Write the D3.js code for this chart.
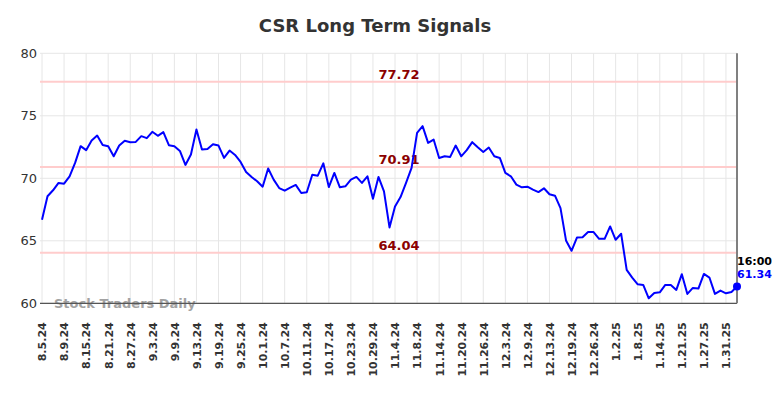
<!DOCTYPE html>
<html>
<head>
<meta charset="utf-8">
<script src="https://cdn.jsdelivr.net/npm/d3@7"></script>
<style>
  html, body { margin: 0; padding: 0; background: #fff; }
  svg { display: block; font-family: "DejaVu Sans", sans-serif; }
</style>
</head>
<body>
<svg id="chart" width="784" height="398"></svg>
<script>
const title = "CSR Long Term Signals";
const tickLabels = ["8.5.24","8.9.24","8.15.24","8.21.24","8.27.24","9.3.24","9.9.24","9.13.24","9.19.24","9.25.24","10.1.24","10.7.24","10.11.24","10.17.24","10.23.24","10.29.24","11.4.24","11.8.24","11.14.24","11.20.24","11.26.24","12.3.24","12.9.24","12.13.24","12.19.24","12.26.24","1.2.25","1.8.25","1.14.25","1.21.25","1.27.25","1.31.25"];
const pointsPerTick = 4;
const values = [
  66.68,68.56,69.04,69.63,69.57,70.16,71.23,72.57,72.25,73.02,
  73.42,72.67,72.57,71.76,72.62,73.00,72.89,72.91,73.37,73.21,
  73.72,73.40,73.69,72.65,72.57,72.19,71.07,71.90,73.90,72.30,
  72.35,72.73,72.62,71.63,72.22,71.87,71.31,70.51,70.11,69.76,
  69.33,70.78,69.89,69.22,69.01,69.25,69.47,68.82,68.88,70.29,
  70.21,71.20,69.30,70.43,69.28,69.36,69.89,70.11,69.63,70.16,
  68.37,70.11,68.96,66.07,67.75,68.50,69.63,70.83,73.64,74.17,
  72.83,73.10,71.63,71.76,71.71,72.62,71.76,72.25,72.89,72.49,
  72.11,72.46,71.76,71.63,70.43,70.16,69.49,69.28,69.33,69.09,
  68.90,69.20,68.72,68.61,67.62,65.03,64.20,65.27,65.29,65.70,
  65.70,65.16,65.16,66.15,65.08,65.56,62.67,62.06,61.52,61.47,
  60.40,60.83,60.88,61.47,61.47,61.07,62.33,60.75,61.23,61.18,
  62.35,62.06,60.75,61.02,60.80,60.91,61.34
];
const yTicks = [60, 65, 70, 75, 80];
const signalLevels = [77.72, 70.91, 64.04];
const lastTime = "16:00";
const watermark = "Stock Traders Daily";

const svg = d3.select("#chart");
const plotLeft = 40, plotRight = 737, plotTop = 53.3, plotBottom = 303.3;

const x = d3.scaleLinear().domain([0, values.length - 1]).range([42, 737]);
const y = d3.scaleLinear().domain([60, 80]).range([plotBottom, plotTop]);

// title
svg.append("text")
  .attr("x", 375).attr("y", 32)
  .attr("text-anchor", "middle")
  .attr("font-size", 18).attr("font-weight", "bold")
  .attr("fill", "#333")
  .text(title);

// horizontal grid
svg.append("g").selectAll("line").data(yTicks).join("line")
  .attr("x1", plotLeft).attr("x2", plotRight)
  .attr("y1", d => y(d)).attr("y2", d => y(d))
  .attr("stroke", "#e6e6e6").attr("stroke-width", 1);

// vertical grid
const tickIdx = tickLabels.map((_, i) => i * pointsPerTick);
svg.append("g").selectAll("line").data(tickIdx).join("line")
  .attr("x1", d => x(d)).attr("x2", d => x(d))
  .attr("y1", plotTop).attr("y2", plotBottom)
  .attr("stroke", "#e6e6e6").attr("stroke-width", 1);

// signal lines
svg.append("g").selectAll("line").data(signalLevels).join("line")
  .attr("x1", plotLeft).attr("x2", plotRight)
  .attr("y1", d => y(d)).attr("y2", d => y(d))
  .attr("stroke", "#ffcccc").attr("stroke-width", 2);

svg.append("g").selectAll("text").data(signalLevels).join("text")
  .attr("x", 399).attr("y", d => y(d) - 3)
  .attr("text-anchor", "middle")
  .attr("font-size", 13).attr("font-weight", "bold")
  .attr("fill", "#8b0000")
  .text(d => d.toFixed(2));

// y axis
const yAxis = d3.axisLeft(y).tickValues(yTicks).tickSize(0).tickPadding(0).tickFormat(d3.format("d"));
const gy = svg.append("g").attr("transform", `translate(${37},0)`).call(yAxis);
gy.select(".domain").remove();
gy.selectAll("text").attr("font-size", 13).attr("fill", "#333").attr("font-family", "DejaVu Sans, sans-serif");

// x axis
const xAxis = d3.axisBottom(x).tickValues(tickIdx).tickSize(0)
  .tickFormat((d, i) => tickLabels[i]);
const gx = svg.append("g").attr("transform", `translate(0,${plotBottom})`).call(xAxis);
gx.select(".domain").remove();
gx.selectAll("text")
  .attr("font-size", 11).attr("font-weight", "bold").attr("fill", "#333")
  .attr("font-family", "DejaVu Sans, sans-serif")
  .attr("text-anchor", "end")
  .attr("transform", "rotate(-90)")
  .attr("dy", "0.35em")
  .attr("x", -19).attr("y", 0);

// watermark
svg.append("text")
  .attr("x", 54).attr("y", 308)
  .attr("font-size", 13).attr("font-weight", "bold")
  .attr("fill", "#999").attr("opacity", 0.9)
  .text(watermark);

// bottom axis line
svg.append("line")
  .attr("x1", plotLeft).attr("x2", plotRight)
  .attr("y1", plotBottom).attr("y2", plotBottom)
  .attr("stroke", "#555").attr("stroke-width", 1.2);

// right vertical line
svg.append("line")
  .attr("x1", plotRight).attr("x2", plotRight)
  .attr("y1", plotTop).attr("y2", plotBottom)
  .attr("stroke", "#808080").attr("stroke-width", 2);

// price line
const line = d3.line().x((d, i) => x(i)).y(d => y(d));
svg.append("path").datum(values)
  .attr("d", line)
  .attr("fill", "none").attr("stroke", "#0000ff").attr("stroke-width", 2)
  .attr("stroke-linejoin", "round");

// last point
const lastI = values.length - 1;
svg.append("circle")
  .attr("cx", x(lastI)).attr("cy", y(values[lastI])).attr("r", 4)
  .attr("fill", "#0000ff");

svg.append("text")
  .attr("x", x(lastI)).attr("y", y(values[lastI]) - 22)
  .attr("font-size", 11).attr("font-weight", "bold").attr("fill", "#000")
  .text(lastTime);
svg.append("text")
  .attr("x", x(lastI)).attr("y", y(values[lastI]) - 9)
  .attr("font-size", 11).attr("font-weight", "bold").attr("fill", "#0000ff")
  .text(values[lastI].toFixed(2));
</script>
</body>
</html>
